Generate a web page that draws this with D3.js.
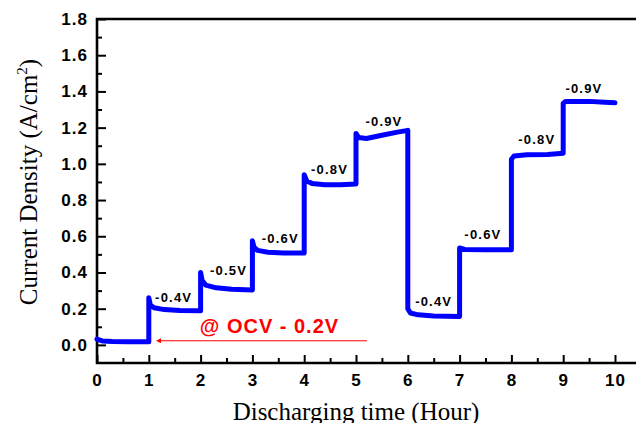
<!DOCTYPE html>
<html>
<head>
<meta charset="utf-8">
<script src="https://cdn.jsdelivr.net/npm/d3@7"></script>
<style>
  body { margin: 0; background: #fff; }
  .tick-label { font-family: "Liberation Sans", Arial, sans-serif; font-weight: bold; font-size: 17px; letter-spacing: 1px; }
  .axis-title { font-family: "Liberation Serif", "Times New Roman", serif; font-size: 25px; }
  .step-label { font-family: "Liberation Sans", Arial, sans-serif; font-weight: bold; font-size: 13px; letter-spacing: 1.2px; }
</style>
</head>
<body>
<div id="chart"></div>
<script>
// discharge curve, [hour, A/cm2]
const curve = [
  [0, 0.032], [0.1, 0.022], [0.3, 0.019], [0.6, 0.018], [1.0, 0.018],
  [1.0, 0.26], [1.03, 0.22], [1.1, 0.205], [1.3, 0.195], [1.6, 0.19], [2.0, 0.188],
  [2.0, 0.40], [2.03, 0.355], [2.1, 0.33], [2.3, 0.315], [2.6, 0.307], [3.0, 0.303],
  [3.0, 0.575], [3.03, 0.54], [3.1, 0.522], [3.3, 0.512], [3.6, 0.508], [4.0, 0.507],
  [4.0, 0.94], [4.05, 0.905], [4.15, 0.892], [4.4, 0.885], [4.7, 0.885], [5.0, 0.889],
  [5.0, 1.168], [5.05, 1.145], [5.2, 1.14], [5.5, 1.158], [5.8, 1.175], [6.0, 1.185],
  [6.0, 0.20], [6.05, 0.176], [6.2, 0.166], [6.5, 0.16], [7.0, 0.157],
  [7.0, 0.535], [7.1, 0.527], [7.5, 0.525], [8.0, 0.525],
  [8.0, 1.025], [8.05, 1.043], [8.3, 1.05], [8.7, 1.052], [9.0, 1.058],
  [9.0, 1.335], [9.05, 1.345], [9.5, 1.345], [9.8, 1.34], [10.0, 1.337]
];

// step voltage labels, positioned in data units
const stepLabels = [
  { t: 1.48, v: 0.264, text: "-0.4V" },
  { t: 2.54, v: 0.415, text: "-0.5V" },
  { t: 3.54, v: 0.593, text: "-0.6V" },
  { t: 4.49, v: 0.97, text: "-0.8V" },
  { t: 5.54, v: 1.237, text: "-0.9V" },
  { t: 6.50, v: 0.244, text: "-0.4V" },
  { t: 7.45, v: 0.613, text: "-0.6V" },
  { t: 8.49, v: 1.137, text: "-0.8V" },
  { t: 9.40, v: 1.421, text: "-0.9V" }
];

const xTicks = [0, 1, 2, 3, 4, 5, 6, 7, 8, 9, 10];
const xMinor = [0.5, 1.5, 2.5, 3.5, 4.5, 5.5, 6.5, 7.5, 8.5, 9.5];
const yTicks = [0.0, 0.2, 0.4, 0.6, 0.8, 1.0, 1.2, 1.4, 1.6, 1.8];
const yMinor = [0.1, 0.3, 0.5, 0.7, 0.9, 1.1, 1.3, 1.5, 1.7];

const ocv = { text: "@ OCV - 0.2V", t: 3.33, v: 0.104, arrowFrom: 5.21, arrowTo: 1.11, arrowV: 0.023 };

const width = 636, height = 423;
const margin = { top: 19, left: 97, bottom: 60 };

const svg = d3.select("#chart").append("svg")
  .attr("width", width)
  .attr("height", height);

// SCALES
const x = d3.scaleLinear().domain([0, 10]).range([margin.left, 615]);
const y = d3.scaleLinear().domain([-0.1, 1.8]).range([height - margin.bottom, margin.top]);

// arrow marker
svg.append("defs").append("marker")
  .attr("id", "arrow")
  .attr("viewBox", "0 0 10 10")
  .attr("refX", 1).attr("refY", 5)
  .attr("markerWidth", 9).attr("markerHeight", 5)
  .attr("markerUnits", "userSpaceOnUse")
  .attr("orient", "auto-start-reverse")
  .append("path")
  .attr("d", "M0,0L10,5L0,10z")
  .attr("fill", "#ff0000");

// AXES (ticks pointing inward)
const xAxis = svg.append("g")
  .attr("transform", `translate(0,${y(-0.1)})`)
  .call(d3.axisTop(x).tickValues(xTicks).tickSize(8).tickFormat(""));
xAxis.select(".domain").remove();
xAxis.selectAll("line").attr("stroke-width", 2);

const xAxisMinor = svg.append("g")
  .attr("transform", `translate(0,${y(-0.1)})`)
  .call(d3.axisTop(x).tickValues(xMinor).tickSize(5).tickFormat(""));
xAxisMinor.select(".domain").remove();
xAxisMinor.selectAll("line").attr("stroke-width", 2);

svg.append("g")
  .selectAll("text")
  .data(xTicks)
  .join("text")
  .attr("class", "tick-label")
  .attr("x", (d) => x(d) + 0.5)
  .attr("y", 386)
  .attr("text-anchor", "middle")
  .text((d) => d);

const yAxis = svg.append("g")
  .attr("transform", `translate(${margin.left},0)`)
  .call(d3.axisRight(y).tickValues(yTicks).tickSize(9).tickFormat(""));
yAxis.select(".domain").remove();
yAxis.selectAll("line").attr("stroke-width", 2);

const yAxisMinor = svg.append("g")
  .attr("transform", `translate(${margin.left},0)`)
  .call(d3.axisRight(y).tickValues(yMinor).tickSize(5).tickFormat(""));
yAxisMinor.select(".domain").remove();
yAxisMinor.selectAll("line").attr("stroke-width", 2);

svg.append("g")
  .selectAll("text")
  .data(yTicks)
  .join("text")
  .attr("class", "tick-label")
  .attr("x", 88)
  .attr("y", (d) => y(d) + 6)
  .attr("text-anchor", "end")
  .text((d) => d.toFixed(1));

// frame: left, bottom, top (right side is cut off)
svg.append("path")
  .attr("d", `M${width + 5},${y(1.8)}H${margin.left}V${y(-0.1)}H${width + 5}`)
  .attr("fill", "none")
  .attr("stroke", "#000")
  .attr("stroke-width", 2.6);

// axis titles
svg.append("text")
  .attr("class", "axis-title")
  .attr("x", 356)
  .attr("y", 420)
  .attr("text-anchor", "middle")
  .text("Discharging time (Hour)");

const yTitle = svg.append("text")
  .attr("class", "axis-title")
  .attr("transform", "translate(37,182) rotate(-90)")
  .attr("text-anchor", "middle");
yTitle.append("tspan").text("Current Density (A/cm");
yTitle.append("tspan").attr("dy", -10).style("font-size", "15px").text("2");
yTitle.append("tspan").attr("dy", 10).text(")");

// data line
const line = d3.line()
  .x((d) => x(d[0]))
  .y((d) => y(d[1]));

svg.append("path")
  .datum(curve)
  .attr("fill", "none")
  .attr("stroke", "#0000ff")
  .attr("stroke-width", 5)
  .attr("stroke-linejoin", "round")
  .attr("stroke-linecap", "round")
  .attr("d", line);

// step labels
svg.append("g")
  .selectAll("text")
  .data(stepLabels)
  .join("text")
  .attr("class", "step-label")
  .attr("x", (d) => x(d.t))
  .attr("y", (d) => y(d.v) + 5)
  .attr("text-anchor", "middle")
  .text((d) => d.text);

// OCV annotation
svg.append("line")
  .attr("x1", x(ocv.arrowFrom))
  .attr("y1", y(ocv.arrowV))
  .attr("x2", x(ocv.arrowTo) + 6)
  .attr("y2", y(ocv.arrowV))
  .attr("stroke", "#ff0000")
  .attr("stroke-width", 1.2)
  .attr("marker-end", "url(#arrow)");

svg.append("text")
  .attr("x", x(ocv.t))
  .attr("y", y(ocv.v) + 7)
  .attr("text-anchor", "middle")
  .attr("fill", "#ff0000")
  .style("font-family", "'Liberation Sans', Arial, sans-serif")
  .style("font-weight", "bold")
  .style("font-size", "20px")
  .style("letter-spacing", "1px")
  .text(ocv.text);
</script>
</body>
</html>
